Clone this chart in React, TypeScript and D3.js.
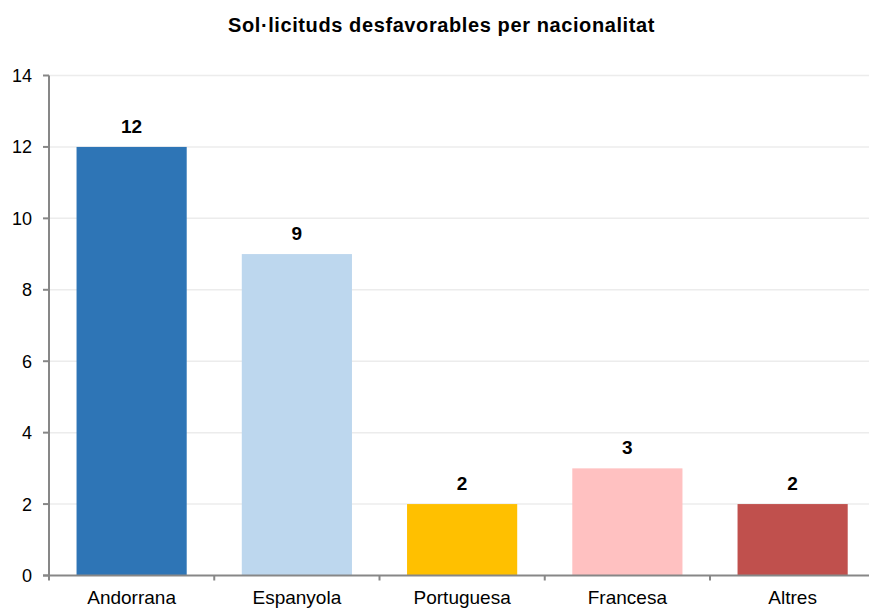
import React from "react";
import * as d3 from "d3";

const WIDTH = 869;
const HEIGHT = 608;

const categories = ["Andorrana", "Espanyola", "Portuguesa", "Francesa", "Altres"];
const values = [12, 9, 2, 3, 2];
const colors = ["#2E75B6", "#BDD7EE", "#FFC000", "#FFC1C1", "#C0504D"];
const yTicks = [0, 2, 4, 6, 8, 10, 12, 14];

const margin = { top: 75.5, left: 49, bottom: 32.5 };
const BAND = 165.25;

export default function App() {
  const x = d3
    .scaleBand<string>()
    .domain(categories)
    .range([margin.left, margin.left + BAND * categories.length])
    .paddingInner(1 / 3)
    .paddingOuter(1 / 6);

  const y = d3
    .scaleLinear()
    .domain([0, 14])
    .range([HEIGHT - margin.bottom, margin.top]);

  const font = "Arial, 'Liberation Sans', sans-serif";
  const axisColor = "#878787";
  const bounds = d3.range(categories.length + 1).map((i) => margin.left + i * BAND);

  return (
    <svg
      width={WIDTH}
      height={HEIGHT}
      style={{ position: "absolute", left: 0, top: 0, background: "#fff" }}
      fontFamily={font}
    >
      <text
        x={441.5}
        y={32}
        textAnchor="middle"
        fontSize={20}
        fontWeight="bold"
        letterSpacing={0.6}
        fill="#000"
      >
        Sol·licituds desfavorables per nacionalitat
      </text>

      {/* gridlines */}
      <g>
        {yTicks
          .filter((t) => t > 0)
          .map((t) => (
            <line
              key={t}
              x1={margin.left}
              x2={WIDTH}
              y1={y(t)}
              y2={y(t)}
              stroke="#ececec"
              strokeWidth={1.5}
            />
          ))}
      </g>

      {/* bars */}
      <g>
        {categories.map((c, i) => (
          <rect
            key={c}
            x={x(c)}
            y={y(values[i])}
            width={x.bandwidth()}
            height={y(0) - y(values[i])}
            fill={colors[i]}
          />
        ))}
      </g>

      {/* value labels */}
      <g fontSize={19} fontWeight="bold" textAnchor="middle" fill="#000">
        {categories.map((c, i) => (
          <text key={c} x={(x(c) || 0) + x.bandwidth() / 2} y={y(values[i]) - 14}>
            {values[i]}
          </text>
        ))}
      </g>

      {/* y axis */}
      <g>
        <line x1={margin.left} x2={margin.left} y1={y(14)} y2={y(0)} stroke={axisColor} strokeWidth={2} />
        {yTicks.map((t) => (
          <g key={t}>
            <line x1={margin.left - 6} x2={margin.left} y1={y(t)} y2={y(t)} stroke={axisColor} strokeWidth={2} />
            <text x={32} y={y(t)} dy="0.36em" textAnchor="end" fontSize={18} fill="#000">
              {t}
            </text>
          </g>
        ))}
      </g>

      {/* x axis */}
      <g>
        <line x1={margin.left - 6} x2={WIDTH} y1={y(0)} y2={y(0)} stroke={axisColor} strokeWidth={2} />
        {bounds.map((b, i) => (
          <line key={i} x1={b} x2={b} y1={y(0)} y2={y(0) + 5} stroke={axisColor} strokeWidth={2} />
        ))}
        {categories.map((c) => (
          <text
            key={c}
            x={(x(c) || 0) + x.bandwidth() / 2}
            y={y(0) + 28.5}
            textAnchor="middle"
            fontSize={19}
            fill="#000"
          >
            {c}
          </text>
        ))}
      </g>
    </svg>
  );
}
